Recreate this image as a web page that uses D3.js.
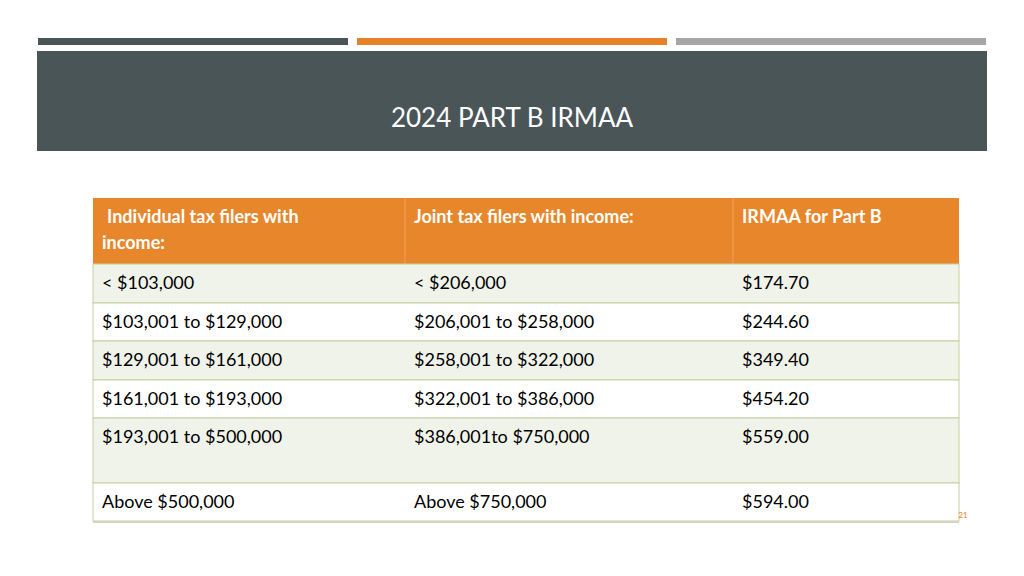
<!DOCTYPE html><html><head><meta charset="utf-8"><script src="https://cdn.jsdelivr.net/npm/d3@7"></script>
<style>body{margin:0;background:#fff}</style></head><body><svg id="c" width="1024" height="576"></svg>
<script>
const title = "2024 PART B IRMAA";
const headers = [["Individual tax filers with","income:"],["Joint tax filers with income:"],["IRMAA for Part B"]];
const individual = ["< $103,000","$103,001 to $129,000","$129,001 to $161,000","$161,001 to $193,000","$193,001 to  $500,000","Above $500,000"];
const joint = ["< $206,000","$206,001 to $258,000","$258,001 to $322,000","$322,001 to $386,000","$386,001to $750,000","Above $750,000"];
const irmaa = ["$174.70","$244.60","$349.40","$454.20","$559.00","$594.00"];
const rowHeights = [39,38,39,38,65,38];
const svg = d3.select("#c");
const F = "Lato, 'Open Sans', sans-serif";
const bars = [["#4a5558",38,348],["#e8822a",357,667],["#a6a6a6",676,986]];
svg.selectAll(".tb").data(bars).join("rect").attr("x",d=>d[1]).attr("y",38).attr("width",d=>d[2]-d[1]).attr("height",7).attr("fill",d=>d[0]);
svg.append("rect").attr("x",37).attr("y",51).attr("width",950).attr("height",100).attr("fill","#4a5558");
svg.append("text").attr("x",512).attr("y",127).attr("text-anchor","middle").attr("fill","#fff").attr("font-family",F).attr("font-size",26).text(title);
const colX = [93,405,733,959];
const border="#c5cf9e";
const tableTop=198, hh=66;
svg.append("rect").attr("x",93).attr("y",tableTop).attr("width",866).attr("height",hh).attr("fill","#e8862b");
headers.forEach((h,i)=>{
  const t=svg.append("text").attr("font-family",F).attr("font-weight",700).attr("font-size",18).attr("fill","#fff");
  h.forEach((l,j)=>t.append("tspan").attr("x",colX[i]+(i==0&&j==0?14:9)).attr("y",tableTop+25+j*26).text(l));
});
svg.selectAll(".hd").data([405,733]).join("line").attr("x1",d=>d).attr("x2",d=>d).attr("y1",tableTop).attr("y2",tableTop+hh).attr("stroke","#f0a060");
let y=tableTop+hh;
const rows=individual.map((d,i)=>({cells:[d,joint[i],irmaa[i]],h:rowHeights[i]}));
rows.forEach((r,i)=>{
  svg.append("rect").attr("x",93).attr("y",y).attr("width",866).attr("height",r.h).attr("fill",i%2==0?"#eff3ea":"#fff").attr("stroke",border);
  r.cells.forEach((c,k)=>svg.append("text").attr("x",colX[k]+9).attr("y",y+25).attr("font-family",F).attr("font-size",18).attr("fill","#000").text(c));
  y+=r.h;
});
svg.append("line").attr("x1",93).attr("x2",959).attr("y1",y+1).attr("y2",y+1).attr("stroke","#d0d6c0").attr("stroke-width",2);
svg.append("text").attr("x",963).attr("y",518).attr("text-anchor","middle").attr("font-family",F).attr("font-size",8).attr("fill","#e8822a").text("21");
</script></body></html>
